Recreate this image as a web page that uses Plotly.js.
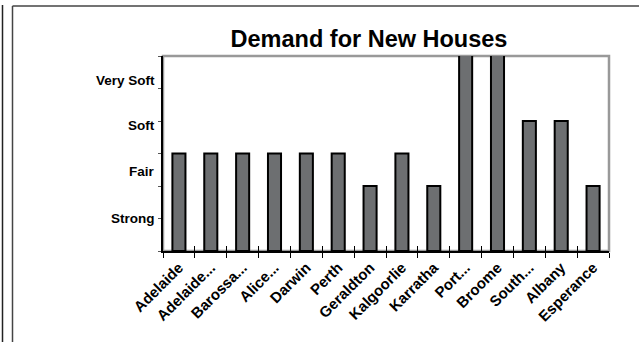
<!DOCTYPE html>
<html>
<head>
<meta charset="utf-8">
<script src="https://cdn.plot.ly/plotly-3.0.1.min.js"></script>
<style>
html,body{margin:0;padding:0;background:#fff;}
#chart{width:639px;height:342px;}
</style>
</head>
<body>
<div id="chart"></div>
<script>
const categories = ["Adelaide","Adelaide...","Barossa...","Alice...","Darwin","Perth","Geraldton","Kalgoorlie","Karratha","Port...","Broome","South...","Albany","Esperance"];
const demandValues = [3,3,3,3,3,3,2,3,2,7,7,4,4,2];
const levelLabels = ["Strong","Fair","Soft","Very Soft"];
const levelPositions = [1,2.45,3.85,5.25];
const yTickVals = [0,1,2,3,4,5,6];

const W = 639, H = 342;
const L = 163, R = 30, T = 56, B = 91;
const pw = W - L - R, ph = H - T - B;
const px = v => (v - L) / pw;
const py = v => (H - B - v) / ph;

const boundaries = categories.map((c,i)=>i-0.5).concat([categories.length-0.5]);

const data = [
  {
    type: "bar",
    x: categories,
    y: demandValues,
    marker: {color: "#6d6f71", line: {color: "#000", width: 2}},
    hoverinfo: "skip"
  },
  {
    type: "scatter",
    mode: "markers",
    x: boundaries,
    y: boundaries.map(()=>null),
    xaxis: "x2",
    yaxis: "y",
    hoverinfo: "skip",
    showlegend: false
  }
];

const FF = "Liberation Sans, Arial, sans-serif";

const layout = {
  width: W, height: H,
  margin: {l: L, r: R, t: T, b: B, pad: 0},
  paper_bgcolor: "#fff",
  plot_bgcolor: "#fff",
  showlegend: false,
  bargap: 0.59,
  font: {family: FF, color: "#000", size: 13},
  title: {
    text: "<b>Demand for New Houses</b>",
    font: {family: FF, size: 23.5, color: "#000"},
    x: px(369), xref: "paper", xanchor: "center",
    y: 0.888, yref: "container", yanchor: "middle"
  },
  xaxis: {
    type: "category",
    categoryarray: categories,
    range: [-0.5, categories.length - 0.5],
    tickson: "boundaries",
    ticks: "outside", ticklen: 5, tickwidth: 1, tickcolor: "#000",
    showline: true, linecolor: "#000", linewidth: 2,
    showgrid: false, zeroline: false,
    tickangle: -45,
    automargin: false,
    tickfont: {family: FF, size: 15, color: "#000", weight: "bold"}
  },
  xaxis2: {
    overlaying: "x",
    anchor: "y",
    range: [-0.5, categories.length - 0.5],
    tickvals: boundaries,
    ticks: "inside", ticklen: 5, tickwidth: 1, tickcolor: "#000",
    showticklabels: false, showline: false, showgrid: false, zeroline: false
  },
  yaxis: {
    range: [0, 6],
    tickvals: yTickVals,
    ticks: "outside", ticklen: 3, tickwidth: 1, tickcolor: "#555",
    showticklabels: false,
    showline: true, linecolor: "#000", linewidth: 2,
    showgrid: false, zeroline: false,
    automargin: false
  },
  annotations: levelLabels.map((t,i)=>({
    text: "<b>" + t + "</b>",
    xref: "paper", yref: "y",
    x: px(157), y: levelPositions[i],
    xanchor: "right", yanchor: "middle",
    showarrow: false,
    font: {family: FF, size: 13.5, color: "#000"}
  })),
  shapes: [
    {type: "rect", xref: "paper", yref: "paper", x0: 0, x1: 1, y0: 0, y1: 1,
     line: {color: "#999", width: 2.5}, layer: "below"},
    {type: "line", xref: "paper", yref: "paper", x0: px(2.5), x1: px(2.5), y0: py(5), y1: py(342),
     line: {color: "#222", width: 1.5}},
    {type: "line", xref: "paper", yref: "paper", x0: px(12.5), x1: px(12.5), y0: py(6), y1: py(342),
     line: {color: "#444", width: 1.5}},
    {type: "line", xref: "paper", yref: "paper", x0: px(12.5), x1: px(639), y0: py(6), y1: py(6),
     line: {color: "#444", width: 1.5}}
  ]
};

Plotly.newPlot("chart", data, layout, {displayModeBar: false, staticPlot: true});
</script>
</body>
</html>
